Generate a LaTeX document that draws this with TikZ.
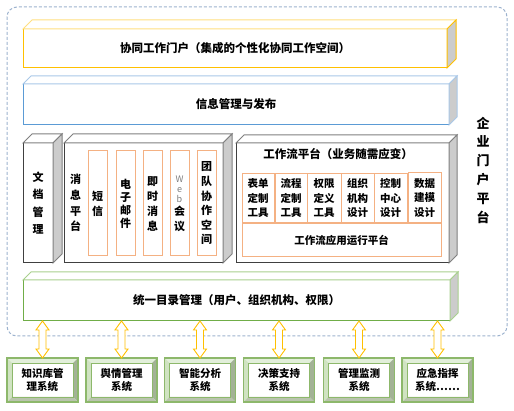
\documentclass[tikz,border=0pt]{standalone}
\usepackage{fontspec}
\setmainfont{Noto Sans CJK SC}
\usetikzlibrary{calc}
\definecolor{ylw}{HTML}{FFC000}
\definecolor{ylwl}{HTML}{FFE080}
\definecolor{blu}{HTML}{5B9BD5}
\definecolor{blul}{HTML}{A9C8E8}
\definecolor{grn}{HTML}{70AD47}
\definecolor{grnl}{HTML}{A9D08E}
\definecolor{dgr}{HTML}{404040}
\definecolor{dgrl}{HTML}{808080}
\definecolor{sideg}{HTML}{CCCCCC}
\definecolor{org}{HTML}{F4B183}
\definecolor{dashc}{HTML}{9DB3CF}
\definecolor{bgreen}{HTML}{8DB86B}
\definecolor{bvtop}{HTML}{E2EFDA}
\definecolor{bvleft}{HTML}{D0E3C2}
\definecolor{bvright}{HTML}{A3B296}
\definecolor{bvbot}{HTML}{B9C4AD}
\newcommand\cubfaces[4]{%
  \filldraw[fill=white, draw=#3, line width=1pt, line join=miter] (#1.north west) -- ++(#2,-#2) -- ($(#1.north east)+(#2,-#2)$) -- (#1.north east) -- cycle;
  \filldraw[fill=sideg, draw=#4, line width=1pt, line join=miter] (#1.north east) -- ++(#2,-#2) -- ($(#1.south east)+(#2,-#2)$) -- (#1.south east) -- cycle;}
\newcommand\bevel[1]{%
  \fill[bvtop] (#1.north west) -- (#1.north east) -- ++(-5,5) -- ($(#1.north west)+(5,5)$) -- cycle;
  \fill[bvleft] (#1.north west) -- ++(5,5) -- ($(#1.south west)+(5,-5)$) -- (#1.south west) -- cycle;
  \fill[bvright] (#1.north east) -- ++(-5,5) -- ($(#1.south east)+(-5,-5)$) -- (#1.south east) -- cycle;
  \fill[bvbot] (#1.south west) -- ++(5,-5) -- ($(#1.south east)+(-5,-5)$) -- (#1.south east) -- cycle;
  \draw[bgreen, line width=0.8pt] ($(#1.north west)+(5,5)$) rectangle ($(#1.south east)+(-5,-5)$);
  \draw[bgreen, line width=1.2pt] (#1.north west) rectangle (#1.south east);}
\newcommand\darrow[2]{%
  \filldraw[fill=white, draw=ylw, line width=0.9pt, line join=miter]
    let \p1=(#1.south -| #2.north), \p2=(#2.north) in
    (\x1,\y1) -- (\x1+6.5pt,\y1-9pt) -- (\x1+3.5pt,\y1-9pt) -- (\x1+3.5pt,\y2+9pt) -- (\x1+6.5pt,\y2+9pt) -- (\x1,\y2)
    -- (\x1-6.5pt,\y2+9pt) -- (\x1-3.5pt,\y2+9pt) -- (\x1-3.5pt,\y1-9pt) -- (\x1-6.5pt,\y1-9pt) -- cycle;}
\newcommand\ltr[1]{{\mdseries\color{gray}\fontsize{9}{9}\selectfont #1}}
\tikzset{
  front/.style={draw=#1, fill=white, line width=1pt, inner sep=0pt, outer sep=0pt, anchor=center},
  big/.style={font=\bfseries\fontsize{11.5}{14}\selectfont},
  vert/.style={align=center, font=\bfseries\fontsize{11}{15.5}\selectfont},
  obox/.style={draw=org, line width=1pt, fill=white, inner sep=0pt, outer sep=0pt, minimum width=19, minimum height=105, align=center, font=\bfseries\fontsize{11}{15}\selectfont},
  tbox/.style={draw=org, line width=1pt, fill=white, inner sep=0pt, outer sep=0pt, minimum height=49, align=center, font=\bfseries\fontsize{10.5}{14.5}\selectfont},
  sysbox/.style={fill=white, inner sep=0pt, outer sep=0pt, minimum width=71, minimum height=44, align=center, font=\bfseries\fontsize{10.5}{13}\selectfont},
}
\begin{document}
\begin{tikzpicture}[x=1pt, y=-1pt]
\useasboundingbox (0,0) rectangle (514,411);
\fill[white] (0,0) rectangle (514,411);
% outer dashed frame
\draw[draw=dashc, line width=1pt, dash pattern=on 3pt off 2pt, rounded corners=10pt] (7,7) rectangle (507,336);
\node[font=\bfseries\fontsize{13}{18.8}\selectfont, align=center] (ent) at (483,170) {企\\业\\门\\户\\平\\台};

% top cuboid
\node[front=ylw, minimum width=424, minimum height=39, big] (portal) at (235,48.5) {协同工作门户（集成的个性化协同工作空间）};
\cubfaces{portal}{9}{ylwl}{ylw}
% info cuboid
\node[front=blu, minimum width=426, minimum height=41, big] (info) at (236,104.5) {信息管理与发布};
\cubfaces{info}{8}{blul}{blul}

% middle row
\node[front=dgr, minimum width=30, minimum height=120, vert, font=\bfseries\fontsize{11}{17.3}\selectfont] (doc) at (38,203) {文\\档\\管\\理};
\cubfaces{doc}{9}{dgrl}{dgrl}
\node[front=dgr, minimum width=159, minimum height=120] (msg) at (143.5,203) {};
\cubfaces{msg}{9}{dgrl}{dgrl}
\node[vert, font=\bfseries\fontsize{11}{15.7}\selectfont] (msgt) at (75.5,203) {消\\息\\平\\台};
\node[obox] (sms) at (97.5,203.5) {短\\信};
\node[obox, font=\bfseries\fontsize{11}{13}\selectfont] (mail) at (125.5,203.5) {电\\子\\邮\\件};
\node[obox] (im) at (152.5,203.5) {即\\时\\消\\息};
\node[obox] (web) at (179.5,203.5) {\ltr{W}\\[-5pt]\ltr{e}\\[-5pt]\ltr{b}\\[-2pt]会\\议};
\node[obox, font=\bfseries\fontsize{11}{14.6}\selectfont] (team) at (206.5,203.5) {团\\队\\协\\作\\空\\间};

\node[front=dgr, minimum width=213, minimum height=120] (wf) at (342.5,203) {};
\cubfaces{wf}{8}{dgrl}{dgrl}
\node[big] (wft) at (338,154) {工作流平台（业务随需应变）};
\node[tbox, minimum width=32] (t1) at (258,198.5) {表单\\定制\\工具};
\node[tbox, minimum width=32] (t2) at (291,198.5) {流程\\定制\\工具};
\node[tbox, minimum width=34] (t3) at (324,198.5) {权限\\定义\\工具};
\node[tbox, minimum width=33] (t4) at (357.5,198.5) {组织\\机构\\设计};
\node[tbox, minimum width=33] (t5) at (390.5,198.5) {控制\\中心\\设计};
\node[tbox, minimum width=33, minimum height=50] (t6) at (424.5,198) {数据\\建模\\设计};
\node[draw=org, line width=1pt, fill=white, inner sep=0pt, minimum width=199, minimum height=33, font=\bfseries\fontsize{10.5}{13}\selectfont] (run) at (341.5,240.5) {工作流应用运行平台};

% directory cuboid
\node[front=grn, minimum width=427, minimum height=41, big] (dir) at (236.5,300.5) {统一目录管理（用户、组织机构、权限）};
\cubfaces{dir}{8}{grnl}{grnl}

% bottom systems
\node[sysbox] (b1) at (42.5,380) {知识库管\\理系统};
\node[sysbox] (b2) at (121.5,380) {舆情管理\\系统};
\node[sysbox] (b3) at (200,380) {智能分析\\系统};
\node[sysbox] (b4) at (279,380) {决策支持\\系统};
\node[sysbox] (b5) at (359,380) {管理监测\\系统};
\node[sysbox] (b6) at (437.5,380) {应急指挥\\系统……};
\foreach \b in {b1,b2,b3,b4,b5,b6}{\bevel{\b}}
\foreach \b in {b1,b2,b3,b4,b5,b6}{\darrow{dir}{\b}}
\end{tikzpicture}
\end{document}
